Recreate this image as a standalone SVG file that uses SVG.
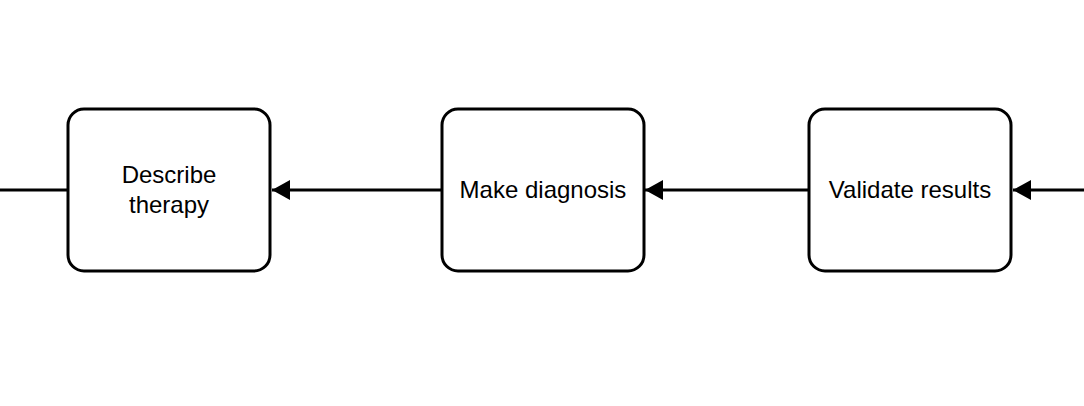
<svg xmlns="http://www.w3.org/2000/svg" width="1084" height="406" viewBox="0 0 1084 406">
<defs>
<style>
.box{fill:#fff;stroke:#000;stroke-width:3}
.edge{stroke:#000;stroke-width:3;fill:none}
.lbl{font-family:"Liberation Sans",Arial,sans-serif;font-size:24px;fill:#000;text-anchor:middle}
</style>
<marker id="arr" markerUnits="userSpaceOnUse" markerWidth="20" markerHeight="22" refX="18" refY="10" orient="auto" viewBox="0 0 20 20">
<path d="M0,0 L18,10 L0,20 Z" fill="#000"/>
</marker>
</defs>
<rect width="1084" height="406" fill="#fff"/>
<g id="connectors">
<line class="edge" x1="0" y1="190" x2="68" y2="190"/>
<line class="edge" x1="442" y1="190" x2="272" y2="190" marker-end="url(#arr)"/>
<line class="edge" x1="809" y1="190" x2="645" y2="190" marker-end="url(#arr)"/>
<line class="edge" x1="1084" y1="190" x2="1013" y2="190" marker-end="url(#arr)"/>
</g>
<g id="describe-therapy">
<rect class="box" x="68" y="109" width="202" height="162" rx="16"/>
<text class="lbl" x="169" y="183">Describe</text>
<text class="lbl" x="169" y="213">therapy</text>
</g>
<g id="make-diagnosis">
<rect class="box" x="442" y="109" width="202" height="162" rx="16"/>
<text class="lbl" x="543" y="198">Make diagnosis</text>
</g>
<g id="validate-results">
<rect class="box" x="809" y="109" width="202" height="162" rx="16"/>
<text class="lbl" x="910" y="198">Validate results</text>
</g>
</svg>
